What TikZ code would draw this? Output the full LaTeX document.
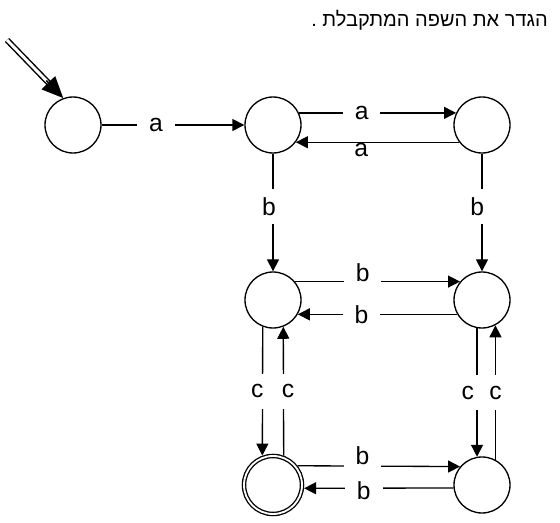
\documentclass[tikz,border=0pt]{standalone}
\usepackage{fontspec}
\setmainfont{Liberation Sans}
\newfontfamily\hebfont[Script=Hebrew]{Liberation Sans}
\TeXXeTstate=1
\usetikzlibrary{arrows.meta,calc}

\tikzset{
  statenode/.style={circle, draw, line width=1pt, minimum size=42pt, inner sep=0pt},
  acceptnode/.style={statenode, double, double distance=1.4pt, minimum size=43.5pt, outer sep=1.7pt},
  arr/.style={line width=1pt, -{Triangle[length=9pt,width=9pt]}},
  hlbl/.style={fill=white, inner sep=0pt, minimum width=28pt, minimum height=24pt},
  vlbl/.style={fill=white, inner sep=0pt, minimum width=20pt, minimum height=26pt},
}

\begin{document}
\begin{tikzpicture}[x=0.75pt, y=-0.75pt, font=\fontsize{18.5}{22}\selectfont]
    \useasboundingbox (0,0) rectangle (560,523);
    \node[anchor=east, inner sep=0pt, font=\fontsize{15}{18}\selectfont] (title) at (548,20) {\hebfont\beginR הגדר את השפה המתקבלת .\endR};

    % states
    \node[statenode] (q0) at (73,125) {};
    \node[statenode] (q1) at (273,125) {};
    \node[statenode] (q2) at (482,125) {};
    \node[statenode] (q3) at (273,300) {};
    \node[statenode] (q4) at (482,300) {};
    \node[acceptnode] (q5) at (273,485) {};
    \node[statenode] (q6) at (482,485) {};

    % start
    \coordinate (start) at (7,40);
    \draw[line width=1.1pt, double, double distance=2.2pt] (start) -- ($(start)!0.8!(q0.110)$);
    \draw[line width=1.2pt, -{Triangle[length=16pt,width=14pt]}] ($(start)!0.7!(q0.110)$) -- (q0.110);

    % a
    \draw[arr] (q0) -- node[hlbl, pos=0.38] {a} (q1);
    \draw[arr] (q1.25) -- node[hlbl, pos=0.4] {a} (q2.155);
    \draw[arr] (q2.217) -- node[below, inner sep=0.5pt, pos=0.6] {a} (q1.-37);

    % b
    \draw[arr] (q1) -- node[vlbl, pos=0.45, xshift=-3pt] {b} (q3);
    \draw[arr] (q2) -- node[vlbl, pos=0.45, xshift=-3.5pt] {b} (q4);
    \draw[arr] (q3.40) -- node[hlbl, pos=0.41, yshift=7pt] {b} (q4.140);
    \draw[arr] (q4.210) -- node[hlbl, pos=0.6] {b} (q3.-30);
    \draw[arr] (q5.38) -- node[hlbl, pos=0.4, yshift=7.5pt] {b} (q6.140);
    \draw[arr] (q6.186) -- node[hlbl, pos=0.6, yshift=-2pt] {b} (q5.-6);

    % c
    \draw[arr] (q3.-111) -- node[vlbl, xshift=-4pt] {c} (q5.110);
    \draw[arr] (q5.70) -- node[vlbl, xshift=3.5pt] {c} (q3.-69);
    \draw[arr] (q4.-100) -- node[vlbl, xshift=-7pt] {c} (q6.100);
    \draw[arr] (q6.62) -- node[vlbl] {c} (q4.-62);
\end{tikzpicture}
\end{document}
